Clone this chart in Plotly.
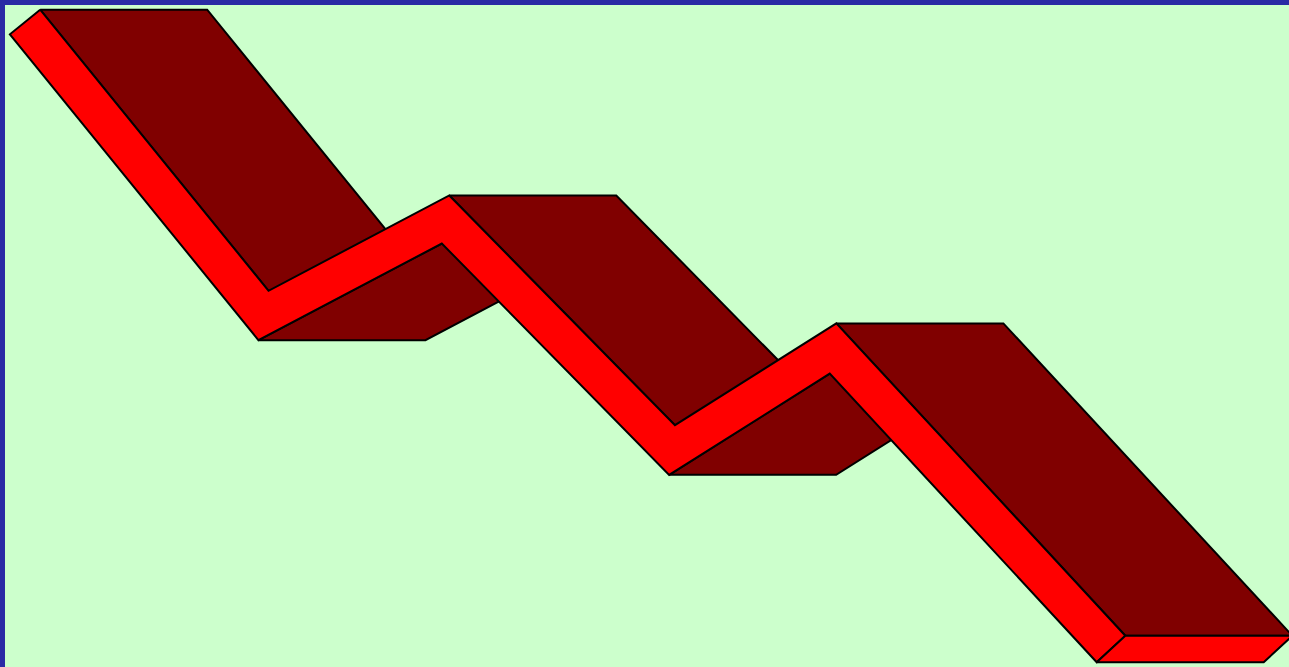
import numpy as np
import plotly.graph_objects as go

# ---- data (x position, value) ----
x_values = [1.56, 20.13, 34.31, 51.95, 64.49, 86.14]
y_values = [97.43, 53.10, 67.60, 32.78, 48.11, 2.72]

# ---- styling / geometry ----
W, H = 1289, 667
M_L, M_T, M_R, M_B = 5, 5, 0, 0
X_RANGE = (0, 100)
Y_RANGE = (0, 100)
BAND_PX = 39.0            # ribbon thickness (pixels)
DEPTH_PX = (167.0, 0.0)   # 3D depth offset (pixels, screen coords)
FRONT = "#FF0000"
SIDE = "#800000"
BG = "#CCFFCC"
BORDER = "#2A2AA5"

plot_w = W - M_L - M_R
plot_h = H - M_T - M_B
sx = plot_w / (X_RANGE[1] - X_RANGE[0])
sy = plot_h / (Y_RANGE[1] - Y_RANGE[0])


def to_px(x, y):
    return np.array([(x - X_RANGE[0]) * sx, -(y - Y_RANGE[0]) * sy])


def to_data(p):
    return (p[0] / sx + X_RANGE[0], -p[1] / sy + Y_RANGE[0])


pts = [to_px(x, y) for x, y in zip(x_values, y_values)]
n = len(pts)
normals = []
for i in range(n - 1):
    d = pts[i + 1] - pts[i]
    u = d / np.linalg.norm(d)
    normals.append(np.array([u[1], -u[0]]))  # screen "upper" side

h = BAND_PX / 2
upper, lower = [], []
for i in range(n):
    if i == 0:
        m = normals[0]
    elif i == n - 1:
        m = normals[-1]
    else:
        a, b = normals[i - 1], normals[i]
        m = (a + b) / (1 + a @ b)
    upper.append(pts[i] + h * m)
    lower.append(pts[i] - h * m)

depth = np.array(DEPTH_PX)

fig = go.Figure()


def add_poly(poly, color):
    poly = list(poly) + [poly[0]]
    xs, ys = zip(*[to_data(p) for p in poly])
    fig.add_trace(go.Scatter(x=xs, y=ys, mode="lines", fill="toself",
                             fillcolor=color,
                             line=dict(color="black", width=2),
                             hoverinfo="skip", showlegend=False))


# side faces, segment by segment
for i in range(n - 1):
    descending = pts[i + 1][1] > pts[i][1]
    e = upper if descending else lower
    add_poly([e[i], e[i + 1], e[i + 1] + depth, e[i] + depth], SIDE)

# front face of the ribbon
add_poly(upper + lower[::-1], FRONT)

# end cap
add_poly([upper[-1], lower[-1], lower[-1] + depth, upper[-1] + depth], FRONT)

fig.update_layout(
    width=W, height=H,
    margin=dict(l=M_L, r=M_R, t=M_T, b=M_B, pad=0),
    paper_bgcolor=BORDER,
    plot_bgcolor=BG,
    xaxis=dict(range=list(X_RANGE), visible=False, fixedrange=True),
    yaxis=dict(range=list(Y_RANGE), visible=False, fixedrange=True),
    showlegend=False,
)

fig.write_html("out.html", config={"displayModeBar": False},
               post_script="document.body.style.margin='0px';document.body.style.overflow='hidden';")
